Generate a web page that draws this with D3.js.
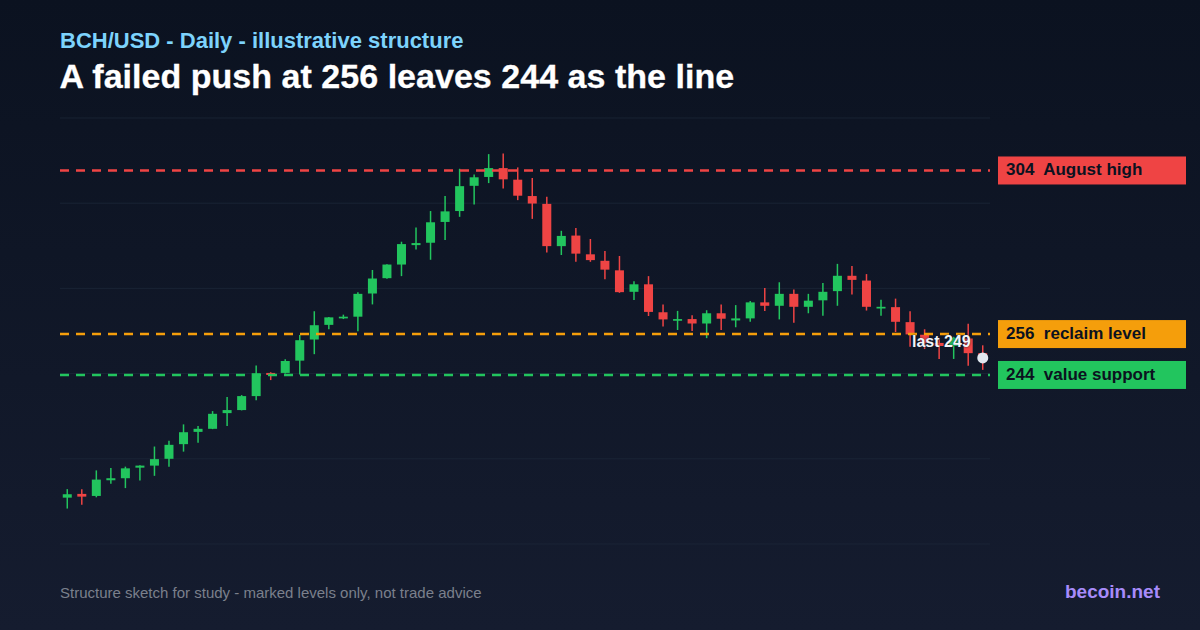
<!DOCTYPE html>
<html>
<head>
<meta charset="utf-8">
<script src="https://cdn.jsdelivr.net/npm/d3@7"></script>
<style>
html,body{margin:0;padding:0;background:#0f172a;}
#wrap{position:relative;width:1200px;height:630px;overflow:hidden;font-family:"Liberation Sans",Arial,sans-serif;text-rendering:optimizeSpeed;}
svg{display:block;position:absolute;left:0;top:0;}
.t{position:absolute;white-space:pre;line-height:normal;}
</style>
</head>
<body>
<div id="wrap"><svg id="chart" width="1200" height="630"></svg></div>
<script>
const opens  = [208.0,209.1,208.5,213.1,213.7,216.8,217.4,219.4,223.7,227.3,228.2,232.8,233.7,237.8,244.6,244.6,248.2,254.4,258.7,260.6,261.1,267.9,272.4,276.4,282.1,282.8,288.9,292.1,299.5,302.1,304.7,301.3,296.5,294.2,281.8,284.9,279.4,277.5,274.7,268.4,270.6,262.4,259.9,260.4,259.1,262.1,260.0,260.6,265.3,264.3,267.8,264.0,265.9,268.6,273.1,271.7,263.5,263.9,259.5,255.8,253.4,252.5,254.7,250.4];
const highs  = [210.5,210.5,216.0,216.7,217.1,217.5,223.0,224.7,229.5,229.0,233.4,237.5,238.1,246.8,244.8,248.6,255.7,262.7,261.0,261.7,268.3,274.8,276.5,283.1,287.3,292.1,296.5,304.5,302.8,308.8,309.0,304.9,301.8,296.3,286.3,287.1,283.9,280.4,278.9,271.5,273.0,264.7,262.8,261.5,263.0,264.7,264.5,265.7,269.5,271.2,269.1,267.8,271.0,276.6,276.0,273.6,266.1,266.4,262.7,257.4,254.3,255.2,259.0,252.7];
const lows   = [204.8,205.9,208.1,212.1,210.8,213.0,214.4,217.1,221.5,224.1,228.1,229.0,233.6,236.6,242.5,244.4,244.1,250.1,257.4,260.4,256.8,264.7,272.2,273.0,280.8,277.8,283.6,290.4,294.0,300.3,298.7,295.3,289.8,279.9,279.2,277.2,277.2,272.1,268.1,266.0,261.3,258.2,257.2,256.9,254.8,257.2,258.0,259.6,262.8,260.3,259.3,262.1,261.4,264.3,267.6,262.9,261.4,256.6,252.3,251.6,248.7,248.7,246.7,245.5];
const closes = [209.0,208.3,213.3,213.7,216.6,217.4,219.3,223.5,227.2,228.2,232.6,233.7,237.8,244.5,244.0,248.1,254.2,258.6,260.9,261.1,267.8,272.3,276.4,282.4,282.7,288.8,292.0,299.4,302.0,304.7,301.4,296.6,294.3,281.8,284.8,279.6,277.7,274.9,268.3,270.6,262.5,260.3,260.4,259.1,262.1,260.5,260.6,265.3,264.3,267.8,264.0,265.8,268.4,273.1,271.9,264.0,264.0,259.6,255.9,253.4,252.5,254.9,250.4,249.0];
const gridValues = [194.4,219.4,244.4,269.4,294.4,319.4];
const levelValues = [304,256,244];
const levelNames = ["August high","reclaim level","value support"];
const levelColors = ["#ef4444","#f59e0b","#22c55e"];
const lastValue = 249;
const subtitle = "BCH/USD - Daily - illustrative structure";
const title = "A failed push at 256 leaves 244 as the line";
const footnote = "Structure sketch for study - marked levels only, not trade advice";
const brand = "becoin.net";

const svg = d3.select("#chart");
const wrap = d3.select("#wrap");
const defs = svg.append("defs");
const grad = defs.append("linearGradient").attr("id","bg").attr("x1",0).attr("y1",0).attr("x2",0).attr("y2",1);
grad.append("stop").attr("offset","0%").attr("stop-color","#0b1220");
grad.append("stop").attr("offset","100%").attr("stop-color","#151c2f");
svg.append("rect").attr("width",1200).attr("height",630).attr("fill","url(#bg)");

const x = d3.scaleBand().domain(d3.range(opens.length)).range([60,990]);
const y = d3.scaleLinear().domain([194.4,319.4]).range([544,118]);
const cx = i => x(i) + x.bandwidth()/2;
const bodyW = x.bandwidth()*0.62;

svg.append("g").selectAll("line").data(gridValues).join("line")
  .attr("x1",60).attr("x2",990).attr("y1",d=>y(d)).attr("y2",d=>y(d))
  .attr("stroke","#1e293b").attr("stroke-opacity",0.7).attr("stroke-width",1);

const candles = svg.append("g").selectAll("g").data(opens.map((o,i)=>i)).join("g");
const col = i => closes[i] >= opens[i] ? "#22c55e" : "#ef4444";
candles.append("line")
  .attr("x1",cx).attr("x2",cx)
  .attr("y1",i=>y(highs[i])).attr("y2",i=>y(lows[i]))
  .attr("stroke",col).attr("stroke-width",1.5);
candles.append("rect")
  .attr("x",i=>cx(i)-bodyW/2).attr("width",bodyW)
  .attr("y",i=>y(Math.max(opens[i],closes[i])))
  .attr("height",i=>Math.max(1.5,Math.abs(y(opens[i])-y(closes[i]))))
  .attr("fill",col);

svg.append("g").selectAll("line").data(levelValues).join("line")
  .attr("x1",60).attr("x2",990).attr("y1",d=>y(d)).attr("y2",d=>y(d))
  .attr("stroke",(d,i)=>levelColors[i]).attr("stroke-width",2.4).attr("stroke-dasharray","9 7");

svg.append("g").selectAll("rect").data(levelValues).join("rect")
  .attr("x",998).attr("width",188).attr("height",28)
  .attr("y",d=>y(d)-14).attr("fill",(d,i)=>levelColors[i]);

svg.append("circle").attr("cx",cx(opens.length-1)).attr("cy",y(lastValue)).attr("r",5.5).attr("fill","#e2e8f0");

function label(str, size, weight, color, xPos, baseline, anchorRight){
  const d = wrap.append("div").attr("class","t").text(str)
    .style("font-size",size+"px").style("font-weight",weight).style("color",color)
    .style("top",Math.round(baseline-size*0.905)+"px");
  if(anchorRight) d.style("right",(1200-xPos)+"px"); else d.style("left",xPos+"px");
  return d;
}
levelValues.forEach((v,i)=>label(v+"  "+levelNames[i],17,700,"#0b1220",1006,y(v)+5,false));
label("last "+lastValue,16,700,"#f1f5f9",cx(opens.length-1)-12,y(lastValue)-10,true)
  .style("text-shadow","0 0 2px #0f172a");
label(subtitle,22,700,"#7dd3fc",60,48,false);
label(title,34,700,"#ffffff",59.5,88,false)
  .style("letter-spacing","0.03px").style("-webkit-text-stroke","0.3px #ffffff");
label(footnote,15,400,"#7b808c",60,598,false);
label(brand,19,700,"#a78bfa",1160,598,true);
</script>
</body>
</html>
